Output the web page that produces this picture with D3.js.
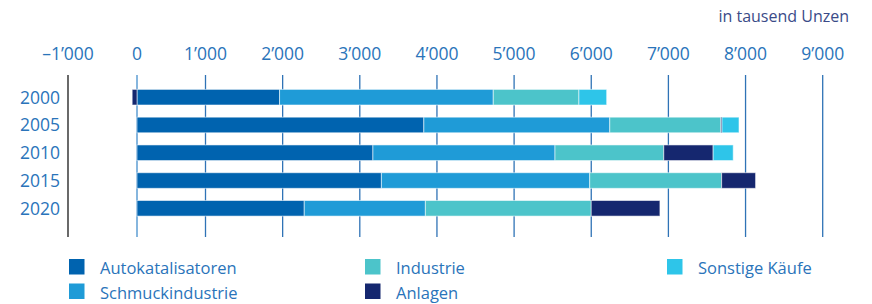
<!DOCTYPE html>
<html>
<head>
<meta charset="utf-8">
<title>Platinnachfrage</title>
<script src="https://cdn.jsdelivr.net/npm/d3@7"></script>
<style>
  body { margin: 0; background: #fff; }
  svg { display: block; font-family: "Open Sans", "Noto Sans", sans-serif; }
</style>
</head>
<body>
<div id="chart"></div>
<script>
// data, in tausend Unzen
var years = ["2000", "2005", "2010", "2015", "2020"];
var seriesNames = ["Autokatalisatoren", "Schmuckindustrie", "Industrie", "Anlagen", "Sonstige Käufe"];
var auto      = [1960, 3830, 3170, 3280, 2280];
var schmuck   = [2770, 2410, 2360, 2700, 1570];
var industrie = [1110, 1440, 1410, 1710, 2150];
var anlagen   = [-70, 15, 640, 440, 890];
var sonstige  = [360, 220, 260, 0, 0];
var xTicks = [-1000, 0, 1000, 2000, 3000, 4000, 5000, 6000, 7000, 8000, 9000];

var colors = ["#0063af", "#1f9bd7", "#4cc4ca", "#15276f", "#2ec5e9"];
var values = [auto, schmuck, industrie, anlagen, sonstige];

var width = 872, height = 304;

var svg = d3.select("#chart").append("svg")
    .attr("width", width)
    .attr("height", height);

// the source axis is squeezed between -1000 and 1000
var x = d3.scaleLinear()
    .domain([-1000, 0, 1000, 9000])
    .range([68, 137, 205.5, 822.7]);

var y = d3.scalePoint()
    .domain(years)
    .range([97.2, 208.3]);

var barH = 15.6;

var fmt = function(d) {
  return d3.format(",")(d).replace(/,/g, "\u2019").replace("\u2212", "\u2013").replace("-", "\u2013");
};

// gridlines
svg.append("g").selectAll("line")
  .data(xTicks)
  .join("line")
    .attr("x1", function(d) { return x(d); })
    .attr("x2", function(d) { return x(d); })
    .attr("y1", 75)
    .attr("y2", 237)
    .attr("stroke", function(d) { return d === -1000 ? "#1a1a1a" : (d === 0 ? "#86b6de" : "#2f73b6"); })
    .attr("stroke-width", function(d) { return d === 0 ? 2 : 1.3; });

// tick labels
svg.append("g").selectAll("text")
  .data(xTicks)
  .join("text")
    .attr("x", function(d) { return x(d); })
    .attr("y", 60)
    .attr("text-anchor", "middle")
    .attr("fill", "#2a74ba")
    .attr("font-size", 17.5)
    .text(fmt);

svg.append("text")
    .attr("x", 849)
    .attr("y", 21.5)
    .attr("text-anchor", "end")
    .attr("fill", "#3a4b88")
    .attr("font-size", 16)
    .text("in tausend Unzen");

// year labels
svg.append("g").selectAll("text")
  .data(years)
  .join("text")
    .attr("x", 60)
    .attr("y", function(d) { return y(d); })
    .attr("dy", "0.36em")
    .attr("text-anchor", "end")
    .attr("fill", "#2a74ba")
    .attr("font-size", 17.5)
    .text(function(d) { return d; });

// stacked bars, negatives go left of zero
var segs = [];
years.forEach(function(yr, i) {
  var pos = 0, neg = 0;
  values.forEach(function(arr, s) {
    var v = arr[i];
    if (v === 0) return;
    var x0, x1;
    if (v > 0) { x0 = pos; x1 = pos + v; pos = x1; }
    else { x1 = neg; x0 = neg + v; neg = x0; }
    segs.push({ year: yr, s: s, x0: x0, x1: x1 });
  });
});

svg.append("g").selectAll("rect")
  .data(segs)
  .join("rect")
    .attr("x", function(d) { return x(d.x0); })
    .attr("y", function(d) { return y(d.year) - barH / 2; })
    .attr("width", function(d) { return Math.max(1, x(d.x1) - x(d.x0)); })
    .attr("height", barH)
    .attr("fill", function(d) { return colors[d.s]; })
    .attr("stroke", "#ffffff")
    .attr("stroke-opacity", 0.55)
    .attr("stroke-width", 1);

// legend
var legendPos = [
  { x: 69, y: 259 }, { x: 69, y: 283.5 },
  { x: 365, y: 259 }, { x: 365, y: 283.5 },
  { x: 667, y: 259 }
];

var leg = svg.append("g").selectAll("g")
  .data(seriesNames)
  .join("g")
    .attr("transform", function(d, i) { return "translate(" + legendPos[i].x + "," + legendPos[i].y + ")"; });

leg.append("rect")
    .attr("width", 15.5)
    .attr("height", 15.5)
    .attr("fill", function(d, i) { return colors[i]; });

leg.append("text")
    .attr("x", 31)
    .attr("y", 15)
    .attr("fill", "#2a74ba")
    .attr("font-size", 16.5)
    .text(function(d) { return d; });
</script>
</body>
</html>
